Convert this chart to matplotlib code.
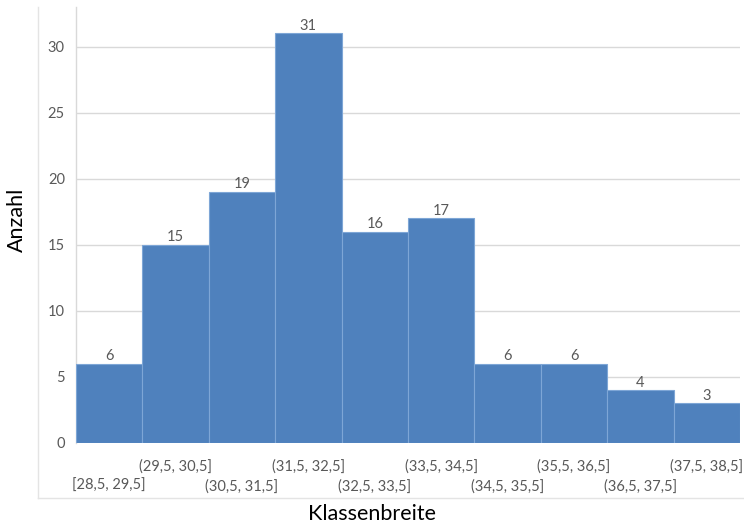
import matplotlib.pyplot as plt
from matplotlib.lines import Line2D

classes = ["[28,5, 29,5]", "(29,5, 30,5]", "(30,5, 31,5]", "(31,5, 32,5]",
           "(32,5, 33,5]", "(33,5, 34,5]", "(34,5, 35,5]", "(35,5, 36,5]",
           "(36,5, 37,5]", "(37,5, 38,5]"]
counts = [6, 15, 19, 31, 16, 17, 6, 6, 4, 3]
y_ticks = [0, 5, 10, 15, 20, 25, 30]

plt.rcParams['font.family'] = ['Lato', 'DejaVu Sans']

fig = plt.figure(figsize=(7.44, 5.23), dpi=100)
ax = fig.add_axes([76 / 744, 1 - 443 / 523, 664 / 744, 436 / 523])

bar_color = "#4f81bd"
grid_color = "#d9d9d9"
text_color = "#595959"
label_size = 10.5

x = list(range(len(counts)))
ax.bar(x, counts, width=1.0, color=bar_color, edgecolor="#7ea6d6",
       linewidth=0.8, zorder=3)

for xi, c in zip(x, counts):
    ax.annotate(str(c), (xi, c), xytext=(0, 5.5), textcoords="offset points",
                ha="center", va="center", fontsize=label_size, color=text_color)

ax.set_xlim(-0.5, len(counts) - 0.5)
ax.set_ylim(0, 33)
ax.set_yticks(y_ticks)
ax.tick_params(axis="y", length=0, labelsize=label_size,
               labelcolor=text_color, pad=8)
ax.yaxis.grid(True, color=grid_color, linewidth=1.0, zorder=0)
ax.set_axisbelow(True)

# class labels staggered on two rows below the bars
ax.set_xticks(x)
ax.set_xticklabels([])
ax.tick_params(axis="x", length=0)
for i, lab in enumerate(classes):
    dy = -17.3 if i % 2 == 1 else -31
    ax.annotate(lab, (i, 0), xytext=(0, dy), textcoords="offset points",
                ha="center", va="center", fontsize=label_size,
                color=text_color, annotation_clip=False)

for side in ["top", "right", "bottom"]:
    ax.spines[side].set_visible(False)
ax.spines["left"].set_color(grid_color)
ax.spines["left"].set_linewidth(1.0)

# outer chart-area border lines
fig.add_artist(Line2D([38 / 744, 38 / 744], [1 - 7 / 523, 1 - 498 / 523],
                      transform=fig.transFigure, color="#e4e4e4", linewidth=1.0))
fig.add_artist(Line2D([38 / 744, 1.0], [1 - 498 / 523, 1 - 498 / 523],
                      transform=fig.transFigure, color="#e4e4e4", linewidth=1.0))

fig.text(372 / 744, 1 - 514 / 523, "Klassenbreite", ha="center", va="center",
         fontsize=15.5, color="black")
fig.text(17 / 744, 1 - 220 / 523, "Anzahl", ha="center", va="center",
         rotation=90, fontsize=15.5, color="black")

fig.savefig("out.png", dpi=100)
